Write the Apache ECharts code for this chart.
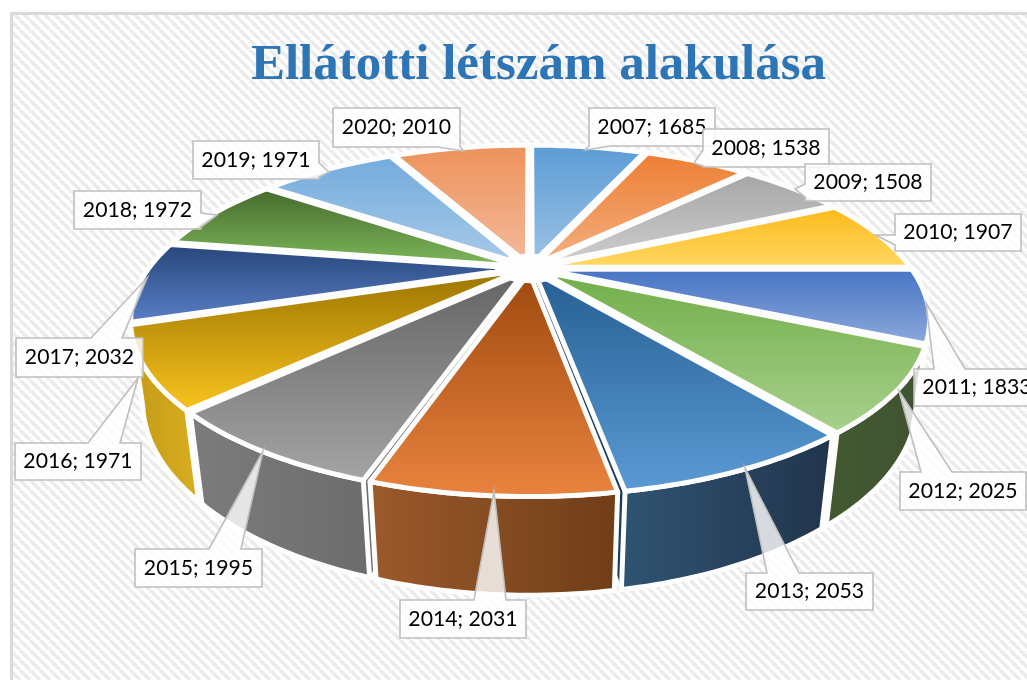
<!DOCTYPE html>
<html><head><meta charset="utf-8">
<style>html,body{margin:0;padding:0;background:#fff;overflow:hidden}#c{width:1027px;height:680px}</style>
<script src="https://cdn.jsdelivr.net/npm/echarts@6/dist/echarts.min.js"></script>
</head><body><div id="c"></div>
<script>
const chartTitle = 'Ellátotti létszám alakulása';
const years  = ['2007','2008','2009','2010','2011','2012','2013','2014','2015','2016','2017','2018','2019','2020'];
const values = [1685,1538,1508,1907,1833,2025,2053,2031,1995,1971,2032,1972,1971,2010];

// top-face gradient [rear colour, front colour], rim gradient [left, right], radial wall colour
const topColors = [['#5b9bd5','#9dc3e6'],['#ed7d31','#f4b183'],['#a5a5a5','#cfcfcf'],['#fbb916','#ffd966'],
  ['#4472c4','#8faadc'],['#70ad47','#a9d18e'],['#255e91','#5b9bd5'],['#9e480e','#ea843f'],['#636363','#a5a5a5'],
  ['#997300','#fbc51f'],['#264478','#5a80c8'],['#43682b','#80ba5c'],['#72aadc','#a9cbe9'],['#ed9159','#f4bb9d']];
const rimColors = [['#3f6f9b','#3f6f9b'],['#aa5a23','#aa5a23'],['#777','#777'],['#b88a10','#b88a10'],
  ['#314f8c','#314f8c'],['#435a32','#3f5230'],['#2f5473','#21344c'],['#9c5a2c','#6f3d17'],['#7c7c7c','#6c6c6c'],
  ['#c49a18','#d9ae20'],['#1d3359','#1d3359'],['#304b1f','#304b1f'],['#5a85ac','#5a85ac'],['#ab6a40','#ab6a40']];
const wallColors = ['#3f6f9b','#aa5a23','#777777','#b88a10','#314f8c','#435a32','#1b3b58','#7a4019','#6e6e6e','#a8830f','#1d3359','#304b1f','#5a85ac','#5e4a3e'];

// callout layout: box [x0,y0,x1,y1], edge holding the leader, base points along that edge, tip [x,y]
const calloutLayout = [
 {box:[589,108,715,146],edge:'b',base:[589,610],tip:[585,150]},
 {box:[703,129,829,167],edge:'l',base:[150,166],tip:[694,163]},
 {box:[805,164,931,201],edge:'l',base:[184,197],tip:[795,189]},
 {box:[895,214,1021,251],edge:'l',base:[235,245],tip:[876,235]},
 {box:[914,369,1040,406],edge:'t',base:[934,965],tip:[926,303]},
 {box:[900,472,1026,510],edge:'t',base:[921,952],tip:[899,391]},
 {box:[746,573,873,610],edge:'t',base:[767,799],tip:[745,468]},
 {box:[400,600,526,638],edge:'t',base:[474,506],tip:[494,491]},
 {box:[135,549,262,587],edge:'t',base:[209,241],tip:[263,451]},
 {box:[15,443,141,480],edge:'t',base:[88,120],tip:[138,378]},
 {box:[16,338,143,377],edge:'t',base:[91,122],tip:[147,278]},
 {box:[74,191,201,229],edge:'r',base:[213,227],tip:[217,215]},
 {box:[193,141,319,179],edge:'r',base:[163,177],tip:[329,172]},
 {box:[333,108,460,147],edge:'b',base:[438,460],tip:[464,151]}
];

// projection of the 3D pie
const cx = 530, cy = 268, K = 370, VK = 388, sinT = 0.40, cosT = 0.9165, D = 3.14, H = 0.22, EXPLODE = 0.03, HUB = 0.095;
function project(x, y, z) {
  const v = y * sinT + z * cosT, w = y * cosT - z * sinT, s = 1 / (1 + w / D);
  return [cx + K * x * s, cy - VK * v * s];
}
const total = values.reduce((a, b) => a + b, 0);
const toAngle = v => v / total * Math.PI * 2;
let acc = 0;
const slices = values.map(v => { const a0 = toAngle(acc); acc += v; return {a0, a1: toAngle(acc)}; });

function renderSlice(params, api) {
  const i = params.dataIndex;
  const a0 = slices[i].a0, a1 = toAngle(api.value(2)) + a0, mid = (a0 + a1) / 2;
  const ex = EXPLODE * Math.sin(mid), ey = EXPLODE * Math.cos(mid);
  const P = (a, r, z) => project(ex + r * Math.sin(a), ey + r * Math.cos(a), z);
  const n = Math.max(6, Math.round((a1 - a0) * 180 / Math.PI));
  const top = [P(a0, 0, 0)], rim = [], rimB = [];
  for (let k = 0; k <= n; k++) {
    const a = a0 + (a1 - a0) * k / n;
    top.push(P(a, 1, 0)); rim.push(P(a, 1, 0)); rimB.unshift(P(a, 1, -H));
  }
  // painter's order: far slices first
  const z = Math.round(1000 * (1 - Math.cos(mid)));
  const white = {stroke: '#fdfdfd', lineWidth: 5, lineJoin: 'round'};
  const wall = a => ({type: 'polygon', z2: z, shape: {points: [P(a,0,0), P(a,1,0), P(a,1,-H), P(a,0,-H)]},
    style: {fill: wallColors[i], stroke: '#fdfdfd', lineWidth: 1.5, lineJoin: 'round'}});
  const children = [
    wall(a0), wall(a1),
    {type: 'polygon', z2: z + 1, shape: {points: rim.concat(rimB)},
     style: Object.assign({fill: {type:'linear',x:0,y:0,x2:1,y2:0,colorStops:[{offset:0,color:rimColors[i][0]},{offset:1,color:rimColors[i][1]}]}}, white)},
    {type: 'polygon', z2: z + 2, shape: {points: top},
     style: Object.assign({fill: {type:'linear',x:0,y:0,x2:0,y2:1,colorStops:[{offset:0,color:topColors[i][0]},{offset:1,color:topColors[i][1]}]}}, white)}
  ];
  if (i === 0) {
    // the bright hub where the slice tips fade into their outlines
    const hub = [];
    for (let k = 0; k < 48; k++) { const a = k / 48 * Math.PI * 2; hub.push(project(HUB * Math.sin(a), HUB * Math.cos(a), 0)); }
    children.push({type:'polygon', z2:4000, shape:{points:hub}, style:{fill:'#fdfdfd'}});
  }
  return {type: 'group', children};
}

function calloutPoints(c) {
  const [x0,y0,x1,y1] = c.box, [b0,b1] = c.base;
  const e = c.edge;
  const pts = [[x0,y0]];
  if (e==='t') pts.push([b0,y0],c.tip,[b1,y0]);
  pts.push([x1,y0]);
  if (e==='r') pts.push([x1,b0],c.tip,[x1,b1]);
  pts.push([x1,y1]);
  if (e==='b') pts.push([b1,y1],c.tip,[b0,y1]);
  pts.push([x0,y1]);
  if (e==='l') pts.push([x0,b1],c.tip,[x0,b0]);
  return pts;
}
function renderCallout(params, api) {
  const i = params.dataIndex, c = calloutLayout[i];
  const z = 5000 + i * 2;
  return {type:'group', children:[
    {type:'polygon', z2:z, shape:{points:calloutPoints(c)}, style:{fill:'rgba(255,255,255,0.81)',stroke:'#bfbfbf',lineWidth:1.6}},
    {type:'text', z2:z+1, x:(c.box[0]+c.box[2])/2, y:(c.box[1]+c.box[3])/2,
     style:{text: years[i] + '; ' + api.value(2), font:'21.2px Lato', fill:'#000', align:'center', verticalAlign:'middle'}}
  ]};
}

// hatch tile
const tile = document.createElement('canvas');
tile.width = tile.height = 10;
(function(){
  const g = tile.getContext('2d');
  g.fillStyle = '#fefefe'; g.fillRect(0,0,10,10);
  g.strokeStyle = '#ebebeb'; g.lineWidth = 3.4;
  for (let k=-10;k<=20;k+=10){ g.beginPath(); g.moveTo(k,0); g.lineTo(k+10,10); g.stroke(); }
})();

const chart = echarts.init(document.getElementById('c'), null, {renderer:'canvas'});
const rows = years.map((y,i)=>[i,y,values[i]]);
chart.setOption({
  animation:false,
  backgroundColor:'#fff',
  title:{text:chartTitle,left:533.5,top:35,textAlign:'center',
    textStyle:{fontFamily:'Liberation Serif',fontWeight:'bold',fontSize:51,color:'#2e75b6'}},
  graphic:[{type:'rect',z:-10,silent:true,shape:{x:11.5,y:13.5,width:1100,height:800},
    style:{fill:{image:tile,repeat:'repeat'},stroke:'#d9d9d9',lineWidth:3}}],
  series:[
    {type:'custom',coordinateSystem:'none',silent:true,data:rows,renderItem:renderSlice,z:2},
    {type:'custom',coordinateSystem:'none',silent:true,data:rows,renderItem:renderCallout,z:3}
  ]
});
</script></body></html>
